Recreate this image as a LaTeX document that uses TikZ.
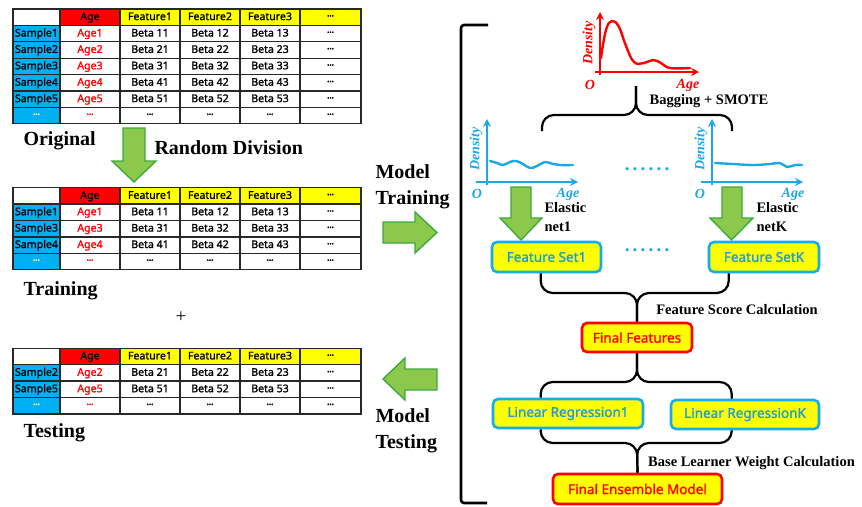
\documentclass[tikz,border=0pt]{standalone}
\usepackage{fontspec}
\setmainfont{Liberation Serif}
\newfontfamily\sansf[FakeBold=1.3]{Noto Sans}
\usetikzlibrary{arrows.meta}

\definecolor{cellblue}{RGB}{0,176,240}
\definecolor{agered}{RGB}{255,0,0}
\definecolor{featyellow}{RGB}{255,255,0}
\definecolor{tabline}{RGB}{40,40,40}
\definecolor{plotblue}{RGB}{28,168,228}
\definecolor{boxblue}{RGB}{20,175,235}
\definecolor{txtblue}{RGB}{30,155,220}
\definecolor{arrowfill}{RGB}{140,200,75}
\definecolor{arrowline}{RGB}{60,170,60}

\newcommand\tdots{\raisebox{0.5pt}{\char"00B7\kern-0.6pt\char"00B7\kern-0.6pt\char"00B7}}
\newcommand\sixdots{.\kern3.2pt.\kern3.2pt.\kern3.2pt.\kern3.2pt.\kern3.2pt.}

\tikzset{
  biglbl/.style={font=\fontsize{20}{26}\selectfont\bfseries},
  midlbl/.style={font=\fontsize{14.5}{19}\selectfont\bfseries},
  axlbl/.style={font=\fontsize{14}{16}\selectfont\bfseries\itshape},
  cell/.style={draw=tabline, line width=1.3pt, minimum width=60pt, minimum height=16.4pt,
    inner sep=0pt, outer sep=0pt, font=\sansf\fontsize{10.6}{12}\selectfont,
    text height=7.8pt, text depth=2pt},
  idcol/.style={cell, minimum width=47pt, fill=cellblue},
  agecol/.style={cell, text=agered},
  lastcol/.style={cell, minimum width=61pt},
  garrow/.style={fill=arrowfill, draw=arrowline, line width=1.4pt, line join=miter},
  redplot/.style={draw=red, line width=2.4pt},
  blueplot/.style={draw=plotblue, line width=2.4pt},
  axarrow/.style={-{Stealth[length=8pt,width=8pt]}},
  brace/.style={draw=black, line width=2.2pt, rounded corners=12pt},
  bluebox/.style={draw=boxblue, fill=featyellow, line width=2.6pt, rounded corners=5pt,
    text=txtblue, font=\sansf\fontsize{13.5}{15}\selectfont, inner sep=0pt},
  redbox/.style={draw=agered, fill=featyellow, line width=2.6pt, rounded corners=5pt,
    text=agered, font=\sansf\fontsize{13.5}{15}\selectfont, inner sep=0pt},
  dotrow/.style={text=plotblue, font=\bfseries\fontsize{19}{19}\selectfont}
}

% header row of a sample table: #1 name prefix, #2 row centre
\newcommand\tabhead[2]{%
  \node[idcol, fill=white] (#1h0) at (36.5,#2) {};
  \node[cell, fill=agered] (#1h1) at (90,#2) {Age};
  \node[cell, fill=featyellow] (#1h2) at (150,#2) {Feature1};
  \node[cell, fill=featyellow] (#1h3) at (210,#2) {Feature2};
  \node[cell, fill=featyellow] (#1h4) at (270,#2) {Feature3};
  \node[lastcol, fill=featyellow] (#1h5) at (330.5,#2) {\tdots};
}
% data row: #1 name prefix, #2 row centre, #3 sample index
\newcommand\tabrow[3]{%
  \node[idcol] (#1c0) at (36.5,#2) {Sample#3};
  \node[agecol] (#1c1) at (90,#2) {Age#3};
  \node[cell] (#1c2) at (150,#2) {Beta #31};
  \node[cell] (#1c3) at (210,#2) {Beta #32};
  \node[cell] (#1c4) at (270,#2) {Beta #33};
  \node[lastcol] (#1c5) at (330.5,#2) {\tdots};
}
% closing row of ellipses
\newcommand\tabend[2]{%
  \node[idcol, text=white] (#1c0) at (36.5,#2) {\tdots};
  \node[agecol] (#1c1) at (90,#2) {\tdots};
  \node[cell] (#1c2) at (150,#2) {\tdots};
  \node[cell] (#1c3) at (210,#2) {\tdots};
  \node[cell] (#1c4) at (270,#2) {\tdots};
  \node[lastcol] (#1c5) at (330.5,#2) {\tdots};
}

\begin{document}
\begin{tikzpicture}[x=1pt, y=-1pt]
\useasboundingbox (0,0) rectangle (862,506);
\fill[white] (0,0) rectangle (862,506);

% ---------- original table ----------
\tabhead{o}{17.2}
\tabrow{oa}{33.6}{1}
\tabrow{ob}{50.0}{2}
\tabrow{oc}{66.4}{3}
\tabrow{od}{82.8}{4}
\tabrow{oe}{99.2}{5}
\tabend{of}{115.6}

\node[biglbl, anchor=west] (lorig) at (20,141) {Original};
\draw[garrow] (123,128) -- (145,128) -- (145,161) -- (156,161) -- (134,182)
  -- (112,161) -- (123,161) -- cycle;
\node[biglbl, anchor=west] (ldiv) at (151,148) {Random Division};

% ---------- training table ----------
\tabhead{t}{195.9}
\tabrow{ta}{212.3}{1}
\tabrow{tb}{228.7}{3}
\tabrow{tc}{245.1}{4}
\tabend{td}{261.5}
\node[biglbl, anchor=west] (ltrain) at (20,291) {Training};
\node[font=\fontsize{19}{19}\selectfont] (plus) at (181,317) {+};

% ---------- testing table ----------
\tabhead{s}{356.5}
\tabrow{sa}{372.9}{2}
\tabrow{sb}{389.3}{5}
\tabend{sc}{405.7}
\node[biglbl, anchor=west] (ltest) at (20,433) {Testing};

% ---------- training / testing arrows ----------
\node[biglbl, anchor=west, align=left] (lmtrain) at (372,187) {Model\\Training};
\draw[garrow] (383,222) -- (415,222) -- (415,212) -- (437,232.5) -- (415,253)
  -- (415,243) -- (383,243) -- cycle;
\draw[garrow] (437,369) -- (405,369) -- (405,358) -- (383,379) -- (405,400)
  -- (405,390) -- (437,390) -- cycle;
\node[biglbl, anchor=west, align=left] (lmtest) at (372,431) {Model\\Testing};

% ---------- bracket around the pipeline ----------
\draw[line width=2.6pt, rounded corners=3pt] (488,25) -| (461,503) -- (487,503);

% ---------- age distribution of all samples ----------
\draw[redplot, axarrow] (600,75) -- (600,12);
\draw[redplot, axarrow] (595,72) -- (699,72);
\draw[redplot, line cap=round] plot[smooth, tension=0.7] coordinates
  {(601,58) (606,30) (612,21) (619,27) (626,46) (634,62) (644,63) (653,60) (661,63) (670,68) (690,68)};
\node[axlbl, text=red, rotate=90] (rdens) at (589,43) {Density};
\node[axlbl, text=red] (ro) at (590,85) {O};
\node[axlbl, text=red] (rage) at (688,85.5) {Age};

% ---------- brace: bagging ----------
\coordinate (b1tip) at (636,86);
\coordinate (b1j) at (636,115);
\coordinate (b1l) at (542,131);
\coordinate (b1r) at (732,131);
\draw[brace] (b1l) |- (b1j) -- (b1tip);
\draw[brace] (b1r) |- (b1j) -- (b1tip);
\node[midlbl] (lbag) at (709,101) {Bagging + SMOTE};

% ---------- balanced subsets ----------
\draw[blueplot, axarrow] (487,185) -- (487,119);
\draw[blueplot, axarrow] (476,182) -- (578,182);
\draw[blueplot, line cap=round] plot[smooth, tension=0.7] coordinates
  {(490,161) (497,163) (503,165) (510,162) (516,161) (523,164) (530,168) (537,166) (545,162) (553,164) (560,165) (573,165)};
\node[axlbl, text=plotblue, rotate=90] (bdens1) at (476,149) {Density};
\node[axlbl, text=plotblue] (bo1) at (477,194) {O};
\node[axlbl, text=plotblue] (bage1) at (568,194) {Age};

\draw[blueplot, axarrow] (712,185) -- (712,119);
\draw[blueplot, axarrow] (701,182) -- (803,182);
\draw[blueplot, line cap=round] plot[smooth, tension=0.7] coordinates
  {(715,163) (733,164) (753,165) (770,164) (780,163) (787,167) (795,165) (802,165)};
\node[axlbl, text=plotblue, rotate=90] (bdens2) at (701,149) {Density};
\node[axlbl, text=plotblue] (bo2) at (700,194) {O};
\node[axlbl, text=plotblue] (bage2) at (793,194) {Age};

\node[dotrow] (dots1) at (647,169) {\sixdots};

% ---------- elastic net arrows ----------
\draw[garrow] (511,187) -- (531,187) -- (531,218) -- (542,218) -- (521,240)
  -- (500,218) -- (511,218) -- cycle;
\node[midlbl, anchor=west, align=left] (len1) at (541,217.5) {Elastic\\net1};
\draw[garrow] (722,187) -- (742,187) -- (742,218) -- (753,218) -- (731.5,240)
  -- (710,218) -- (722,218) -- cycle;
\node[midlbl, anchor=west, align=left] (lenk) at (753,217.5) {Elastic\\netK};

% ---------- feature sets ----------
\node[bluebox, minimum width=109pt, minimum height=30pt] (fs1) at (546.5,257) {Feature Set1};
\node[bluebox, minimum width=110pt, minimum height=30pt] (fsk) at (764,257) {Feature SetK};
\node[dotrow] (dots2) at (647,250) {\sixdots};

\node[redbox, minimum width=110pt, minimum height=29pt] (ff) at (637,337.5) {Final Features};
\coordinate (b2j) at (637,293);
\draw[brace] ([xshift=50pt]fs1.south west) |- (b2j) -- (ff.north);
\draw[brace] ([xshift=21pt]fsk.south west) |- (b2j) -- (ff.north);
\node[midlbl] (lscore) at (737,310) {Feature Score Calculation};

% ---------- base learners ----------
\node[bluebox, minimum width=150pt, minimum height=29pt] (lr1) at (568,413.5) {Linear Regression1};
\node[bluebox, minimum width=148pt, minimum height=29pt] (lrk) at (745,414.5) {Linear RegressionK};
\coordinate (b3j) at (637,382);
\draw[brace] (ff.south) -- (b3j) -| ([xshift=49pt]lr1.north west);
\draw[brace] (ff.south) -- (b3j) -| ([xshift=62pt]lrk.north west);

\node[redbox, minimum width=169pt, minimum height=30pt] (fe) at (637.5,489) {Final Ensemble Model};
\coordinate (b4j) at (637,443);
\draw[brace] ([xshift=49pt]lr1.south west) |- (b4j) -- (fe.north);
\draw[brace] ([xshift=62pt]lrk.south west) |- (b4j) -- (fe.north);
\node[midlbl] (lweight) at (751.5,463) {Base Learner Weight Calculation};
\end{tikzpicture}
\end{document}
